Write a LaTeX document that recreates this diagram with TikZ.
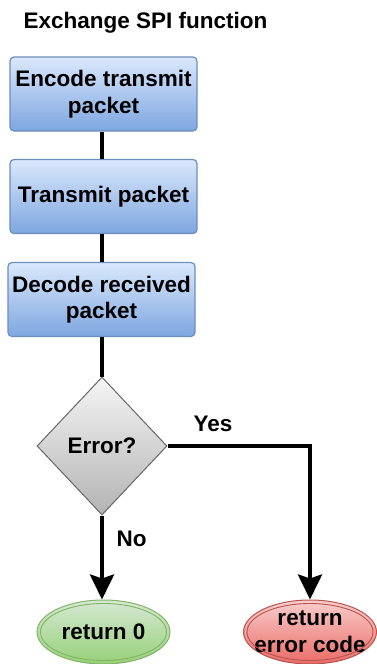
\documentclass[tikz,border=0pt]{standalone}
\usepackage{fontspec}
\setmainfont{Liberation Sans}
\usetikzlibrary{shapes.geometric,arrows.meta}
\definecolor{bluetop}{HTML}{DAE8FC}
\definecolor{bluebot}{HTML}{7EA6E0}
\definecolor{blueline}{HTML}{6C8EBF}
\definecolor{greytop}{HTML}{F5F5F5}
\definecolor{greybot}{HTML}{B3B3B3}
\definecolor{greyline}{HTML}{666666}
\definecolor{greentop}{HTML}{D5E8D4}
\definecolor{greenbot}{HTML}{97D077}
\definecolor{greenline}{HTML}{82B366}
\definecolor{redtop}{HTML}{F8CECC}
\definecolor{redbot}{HTML}{EA6B66}
\definecolor{redline}{HTML}{B85450}
\tikzset{
  txt/.style={font=\fontsize{22.5}{26.5}\selectfont\bfseries, align=center},
  stepbox/.style={txt, rectangle, rounded corners=4pt, minimum width=187pt,
    minimum height=74pt, inner sep=0pt, top color=bluetop, bottom color=bluebot,
    draw=blueline, line width=1.2pt},
  decision/.style={txt, diamond, minimum width=130pt, minimum height=138pt,
    inner sep=0pt, top color=greytop, bottom color=greybot, draw=greyline, line width=1pt},
  terminal/.style={txt, ellipse, minimum width=133pt, minimum height=64pt,
    inner sep=0pt, line width=1pt},
  flow/.style={line width=4pt},
  flowarrow/.style={flow, -{Stealth[length=25pt, width=24pt, inset=4pt]}},
}
\begin{document}
\begin{tikzpicture}[x=1pt, y=-1pt]
\useasboundingbox (0,0) rectangle (376,664);

\node[txt, anchor=base west] (title) at (20,28) {Exchange SPI function};

\node[stepbox] (enc) at (103.5,94) {Encode transmit\\packet};
\node[stepbox] (tx)  at (103.5,196.5) {Transmit packet};
\node[stepbox] (dec) at (101.5,299.5) {Decode received\\packet};
\node[decision] (err) at (102,446) {Error?};
\node[terminal, top color=greentop, bottom color=greenbot, draw=greenline] (ok) at (103.5,632) {return 0};
% the two-line label overhangs the ellipse, so its inner sep is negative
\node[terminal, inner xsep=-9pt, inner ysep=-1.5pt, top color=redtop, bottom color=redbot, draw=redline] (fail) at (310,632) {return\\error code};

% inner rings of the double-bordered terminals
\draw[greenline, line width=0.9pt] (ok.center) ellipse (63 and 28.5);
\draw[redline, line width=0.9pt] (fail.center) ellipse (63 and 28.5);

\draw[flow] (enc.south -| 102,0) -- (tx.north -| 102,0);
\draw[flow] (tx.south -| 102,0) -- (dec.north -| 102,0);
\draw[flow] (dec.south -| 102,0) -- (err.north);
\draw[flowarrow] (err.south) -- (err.south |- ok.north);
\draw[flowarrow] (err.east) -| (fail.north);

\node[txt, anchor=base west] (yes) at (190,431) {Yes};
\node[txt, anchor=base west] (no) at (113,546) {No};
\end{tikzpicture}
\end{document}
